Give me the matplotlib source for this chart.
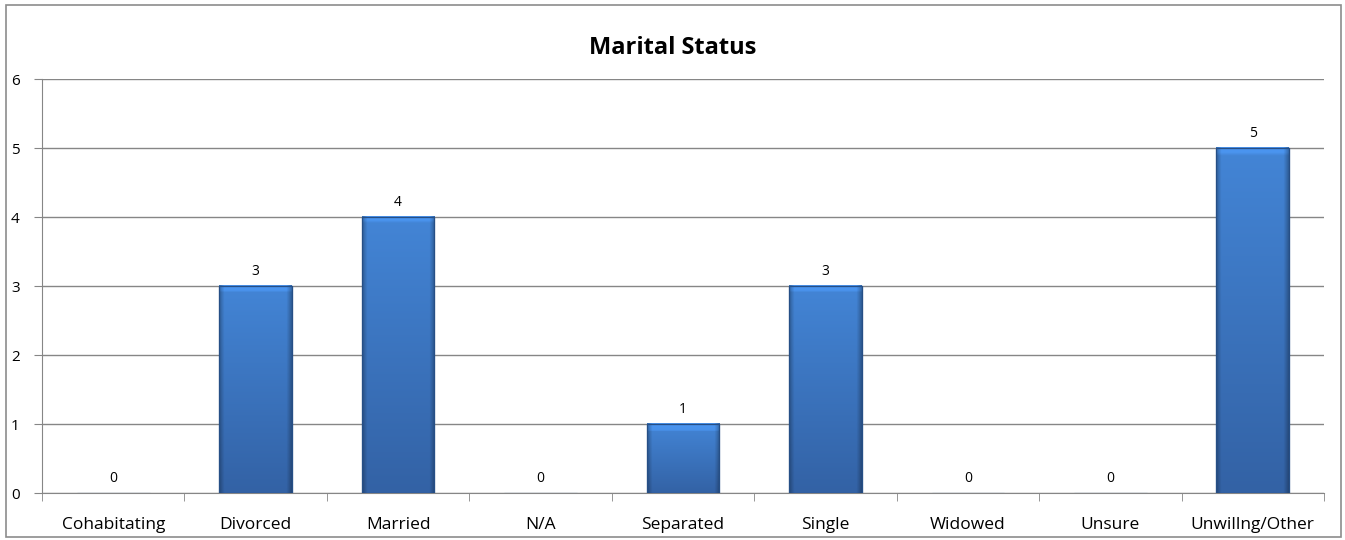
import matplotlib.pyplot as plt
import numpy as np
from matplotlib.patches import Rectangle
from matplotlib.colors import to_rgb

categories = ["Cohabitating", "Divorced", "Married", "N/A", "Separated",
              "Single", "Widowed", "Unsure", "Unwillng/Other"]
counts = [0, 3, 4, 0, 1, 3, 0, 0, 5]
y_ticks = [0, 1, 2, 3, 4, 5, 6]

plt.rcParams["font.family"] = ["Open Sans", "DejaVu Sans"]

fig = plt.figure(figsize=(13.45, 5.4), dpi=100)
ax = fig.add_axes([0.0312, 0.087, 0.9532, 0.7667])

# outer chart border
fig.patches.append(Rectangle((0.0045, 0.006), 0.9925, 0.985, transform=fig.transFigure,
                             fill=False, edgecolor="#8c8c8c", linewidth=1.2))

x = np.arange(len(categories))
width = 0.51
bars = ax.bar(x, counts, width=width, color="#3b78c6", edgecolor="#2a5a95",
              linewidth=0.8, zorder=3)

# shading: lighter at the top, darker at the bottom, dark side edges
bottom_c = np.array(to_rgb("#3362a5"))
top_c = np.array(to_rgb("#4385d6"))
n = 100
for b in bars:
    h = b.get_height()
    if h <= 0:
        continue
    rows = np.linspace(0, 1, n)[:, None, None]
    img = bottom_c + (top_c - bottom_c) * rows
    img = np.repeat(img, n, axis=1)
    cols = np.linspace(0, 1, n)
    edge = np.clip(np.minimum(cols, 1 - cols) / 0.07, 0, 1)
    shade = 0.72 + 0.28 * edge
    img = img * shade[None, :, None]
    # small light bevel at the top (~8 px)
    bev = int(n * 8 / (h * 69.0))
    if bev > 0:
        img[-bev:, :, :] = np.clip(img[-bev:, :, :] * 1.12, 0, 1)
    x0 = b.get_x()
    ax.imshow(img, aspect="auto", origin="lower",
              extent=(x0, x0 + width, 0, h), zorder=3.5, interpolation="bilinear")
    ax.add_patch(Rectangle((x0, 0), width, h, fill=False, edgecolor="#264f86",
                           linewidth=0.9, zorder=4))

for xi, v in zip(x, counts):
    ax.text(xi, v + 0.1, str(v), ha="center", va="bottom", fontsize=10, color="#000000")

ax.set_xlim(-0.5, len(categories) - 0.5)
ax.set_ylim(0, 6)
ax.set_yticks(y_ticks)
ax.set_xticks(x)
ax.set_xticklabels(categories, fontsize=12.5)
ax.tick_params(axis="x", length=0, pad=17)
ax.set_xticks(np.arange(-0.5, len(categories), 1), minor=True)
ax.tick_params(axis="x", which="minor", length=6, color="#868686", direction="out")
ax.tick_params(axis="y", length=6, color="#868686", labelsize=11, pad=10)
ax.yaxis.grid(True, color="#868686", linewidth=1.0, zorder=0)
ax.set_axisbelow(True)
for s in ["top", "right"]:
    ax.spines[s].set_visible(False)
ax.spines["left"].set_color("#868686")
ax.spines["bottom"].set_color("#868686")

fig.text(0.5, 0.912, "Marital Status", ha="center", va="center",
         fontsize=17, fontweight="bold")

fig.savefig("out.png", dpi=100)
